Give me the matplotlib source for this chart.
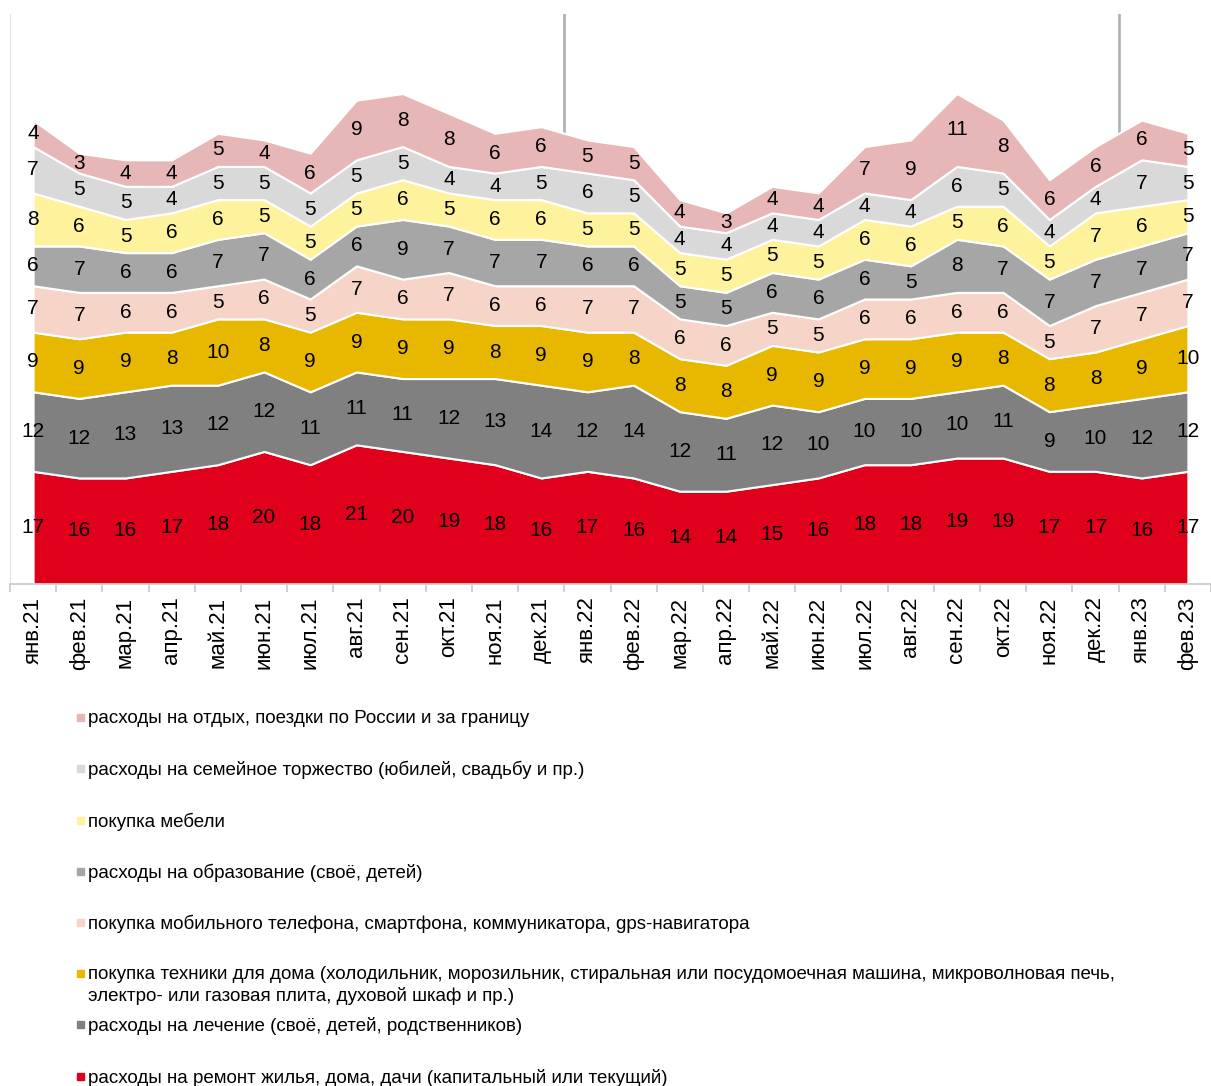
import numpy as np
import matplotlib
matplotlib.use("Agg")
import matplotlib.pyplot as plt

plt.rcParams['font.family'] = ['Liberation Sans', 'DejaVu Sans']

# месяцы
months = ['янв.21', 'фев.21', 'мар.21', 'апр.21', 'май.21', 'июн.21', 'июл.21', 'авг.21',
          'сен.21', 'окт.21', 'ноя.21', 'дек.21', 'янв.22', 'фев.22', 'мар.22', 'апр.22',
          'май.22', 'июн.22', 'июл.22', 'авг.22', 'сен.22', 'окт.22', 'ноя.22', 'дек.22',
          'янв.23', 'фев.23']

# ряды снизу вверх
remont = [17, 16, 16, 17, 18, 20, 18, 21, 20, 19, 18, 16, 17, 16, 14, 14, 15, 16, 18, 18, 19, 19, 17, 17, 16, 17]
lechenie = [12, 12, 13, 13, 12, 12, 11, 11, 11, 12, 13, 14, 12, 14, 12, 11, 12, 10, 10, 10, 10, 11, 9, 10, 12, 12]
tehnika = [9, 9, 9, 8, 10, 8, 9, 9, 9, 9, 8, 9, 9, 8, 8, 8, 9, 9, 9, 9, 9, 8, 8, 8, 9, 10]
telefon = [7, 7, 6, 6, 5, 6, 5, 7, 6, 7, 6, 6, 7, 7, 6, 6, 5, 5, 6, 6, 6, 6, 5, 7, 7, 7]
obrazovanie = [6, 7, 6, 6, 7, 7, 6, 6, 9, 7, 7, 7, 6, 6, 5, 5, 6, 6, 6, 5, 8, 7, 7, 7, 7, 7]
mebel = [8, 6, 5, 6, 6, 5, 5, 5, 6, 5, 6, 6, 5, 5, 5, 5, 5, 5, 6, 6, 5, 6, 5, 7, 6, 5]
torzhestvo = [7, 5, 5, 4, 5, 5, 5, 5, 5, 4, 4, 5, 6, 5, 4, 4, 4, 4, 4, 4, 6, 5, 4, 4, 7, 5]
otdyh = [4, 3, 4, 4, 5, 4, 6, 9, 8, 8, 6, 6, 5, 5, 4, 3, 4, 4, 7, 9, 11, 8, 6, 6, 6, 5]

names = ['расходы на ремонт жилья, дома, дачи (капитальный или текущий)',
         'расходы на лечение (своё, детей, родственников)',
         'покупка техники для дома (холодильник, морозильник, стиральная или посудомоечная машина, микроволновая печь,\nэлектро- или газовая плита, духовой шкаф и пр.)',
         'покупка мобильного телефона, смартфона, коммуникатора, gps-навигатора',
         'расходы на образование (своё, детей)',
         'покупка мебели',
         'расходы на семейное торжество (юбилей, свадьбу и пр.)',
         'расходы на отдых, поездки по России и за границу']
colors = ['#e0001b', '#808080', '#e8b800', '#f6d5c8', '#a6a6a6', '#fff29c', '#d9d9d9', '#e6b7b6']

series = [remont, lechenie, tehnika, telefon, obrazovanie, mebel, torzhestvo, otdyh]
x = np.arange(len(months))

W, H = 1211, 1086
fig = plt.figure(figsize=(W / 100, H / 100), dpi=100)
ax = fig.add_axes([10 / W, (H - 584) / H, (W - 10) / W, 570 / H])

# вертикальные разделители лет
for xv in [11.5, 23.5]:
    ax.axvline(xv, color='#b3b3b3', lw=2, zorder=0)

ax.stackplot(x, *series, colors=colors, edgecolor='white', linewidth=1.5, zorder=2)

# подписи значений в центре каждой полосы
base = np.zeros(len(months))
for s in series:
    s = np.array(s, dtype=float)
    for i in range(len(months)):
        ax.text(x[i], base[i] + s[i] / 2, str(int(s[i])), ha='center', va='center',
                fontsize=15, color='black', zorder=3)
    base += s

ax.set_xlim(-0.5, 25.33)
ax.set_ylim(0, 86)
ax.set_yticks([])
ax.set_xticks(x)
ax.set_xticklabels(months, rotation=90, fontsize=16)
ax.set_xticks(np.arange(-0.5, 25.6, 1), minor=True)
ax.tick_params(axis='x', which='major', length=0, pad=9)
ax.tick_params(axis='x', which='minor', length=6, color='#c8c8c8', width=1.2)
for sp in ['top', 'right']:
    ax.spines[sp].set_visible(False)
ax.spines['left'].set_color('#e6e6e6')
ax.spines['bottom'].set_color('#c8c8c8')
ax.spines['bottom'].set_linewidth(1.2)

# легенда (сверху вниз в обратном порядке)
leg_y = [718, 769, 821, 872, 923, 974, 1025, 1077]
for k, (name, col) in enumerate(zip(names[::-1], colors[::-1])):
    yy = leg_y[k]
    fig.patches.append(plt.Rectangle((77 / W, 1 - (yy + 3) / H), 7 / W, 7 / H,
                                     transform=fig.transFigure, color=col))
    fig.text(88 / W, 1 - (yy - 8) / H, name, ha='left', va='top', fontsize=13.5,
             linespacing=1.3)

fig.savefig('out.png', dpi=100)
